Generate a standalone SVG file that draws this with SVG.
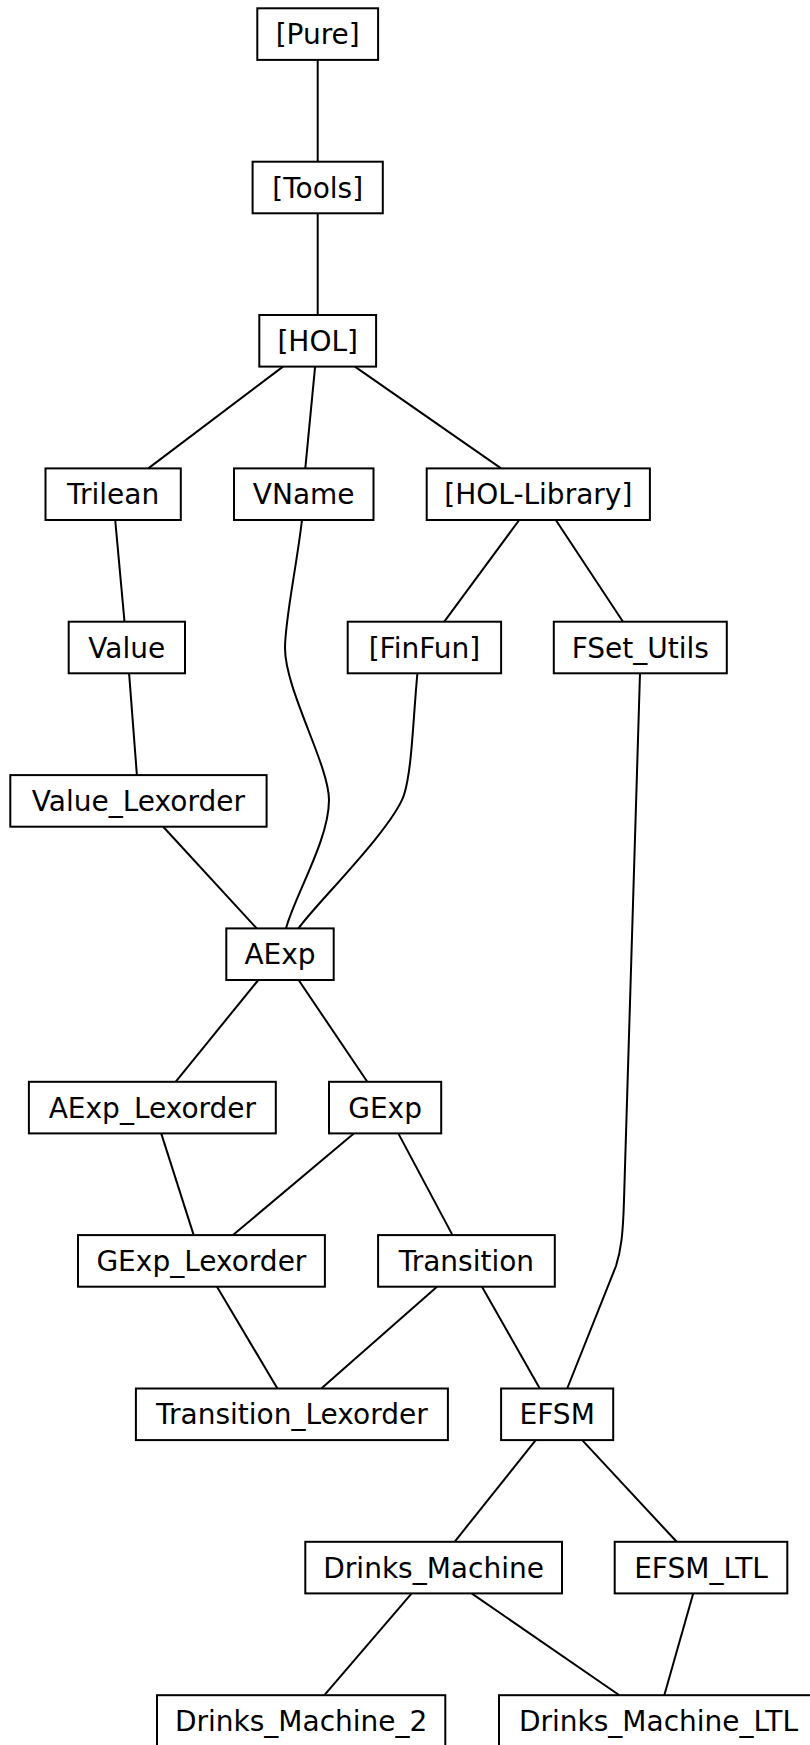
<svg xmlns="http://www.w3.org/2000/svg" width="810" height="1745" viewBox="0 0 810 1745">
<style>
.n rect{fill:#fff;stroke:#000;stroke-width:2}
.n text{font-family:"DejaVu Sans",sans-serif;font-size:28px;fill:#000;text-anchor:middle}
#edges path{fill:none;stroke:#000;stroke-width:2}
</style>
<rect x="0" y="0" width="810" height="1745" fill="#fff"/>
<g id="edges">
<path d="M317.7,60 L317.7,161.7"/>
<path d="M317.7,213.3 L317.7,315"/>
<path d="M283,366.6 L148.3,468.4"/>
<path d="M315.1,366.6 L305.3,468.4"/>
<path d="M354.9,366.6 L501.1,468.4"/>
<path d="M115.2,520 L124.5,621.7"/>
<path d="M129.1,673.3 L136.9,775.1"/>
<path d="M302,520 C296,570 285,620 285,648 C285,690 329,765 329,800 C329,840 295,895 286,928.4"/>
<path d="M519.2,520 L444.3,621.7"/>
<path d="M555.8,520 L623,621.7"/>
<path d="M417.4,673.3 C413,720 412,770 404,795 C392,830 310,910 298.6,928.4"/>
<path d="M163.2,826.7 L256.7,928.4"/>
<path d="M640,673.3 L624,1200 C623,1235 621,1250 616,1266 L567.2,1388.5"/>
<path d="M258.3,980 L175.6,1081.8"/>
<path d="M298.6,980 L367.3,1081.8"/>
<path d="M161.2,1133.4 L193.7,1235.1"/>
<path d="M353.8,1133.4 L233,1235.1"/>
<path d="M398.3,1133.4 L452.5,1235.1"/>
<path d="M217,1286.7 L277.4,1388.5"/>
<path d="M437,1286.7 L321.3,1388.5"/>
<path d="M482,1286.7 L539.8,1388.5"/>
<path d="M535.7,1440.1 L454.6,1541.8"/>
<path d="M582.2,1440.1 L676.7,1541.8"/>
<path d="M411.7,1593.4 L324.4,1695.2"/>
<path d="M471.6,1593.4 L619.4,1695.2"/>
<path d="M693.2,1593.4 L664.3,1695.2"/>
</g>
<g id="n_pure" class="n"><rect x="257.3" y="8.3" width="120.8" height="51.6"/><text x="317.7" y="44.1">[Pure]</text></g>
<g id="n_tools" class="n"><rect x="252.6" y="161.7" width="130.2" height="51.6"/><text x="317.7" y="197.5">[Tools]</text></g>
<g id="n_hol" class="n"><rect x="259.3" y="315" width="116.8" height="51.6"/><text x="317.7" y="350.8">[HOL]</text></g>
<g id="n_trilean" class="n"><rect x="45.5" y="468.4" width="135.3" height="51.6"/><text x="113.1" y="504.2">Trilean</text></g>
<g id="n_vname" class="n"><rect x="234" y="468.4" width="139.5" height="51.6"/><text x="303.7" y="504.2">VName</text></g>
<g id="n_hollib" class="n"><rect x="426.7" y="468.4" width="223.2" height="51.6"/><text x="538.3" y="504.2">[HOL-Library]</text></g>
<g id="n_value" class="n"><rect x="68.7" y="621.7" width="116.3" height="51.6"/><text x="126.8" y="657.5">Value</text></g>
<g id="n_finfun" class="n"><rect x="347.7" y="621.7" width="153.4" height="51.6"/><text x="424.4" y="657.5">[FinFun]</text></g>
<g id="n_fset" class="n"><rect x="553.8" y="621.7" width="173" height="51.6"/><text x="640.3" y="657.5">FSet_Utils</text></g>
<g id="n_valuelex" class="n"><rect x="10.3" y="775.1" width="256.3" height="51.6"/><text x="138.4" y="810.9">Value_Lexorder</text></g>
<g id="n_aexp" class="n"><rect x="226.3" y="928.4" width="107.4" height="51.6"/><text x="280" y="964.2">AExp</text></g>
<g id="n_aexplex" class="n"><rect x="28.9" y="1081.8" width="246.9" height="51.6"/><text x="152.4" y="1117.6">AExp_Lexorder</text></g>
<g id="n_gexp" class="n"><rect x="329" y="1081.8" width="112.2" height="51.6"/><text x="385.1" y="1117.6">GExp</text></g>
<g id="n_gexplex" class="n"><rect x="78" y="1235.1" width="246.9" height="51.6"/><text x="201.4" y="1270.9">GExp_Lexorder</text></g>
<g id="n_transition" class="n"><rect x="378.1" y="1235.1" width="176.7" height="51.6"/><text x="466.4" y="1270.9">Transition</text></g>
<g id="n_translex" class="n"><rect x="135.9" y="1388.5" width="312" height="51.6"/><text x="291.9" y="1424.3">Transition_Lexorder</text></g>
<g id="n_efsm" class="n"><rect x="501.1" y="1388.5" width="112.1" height="51.6"/><text x="557.2" y="1424.3">EFSM</text></g>
<g id="n_drinks" class="n"><rect x="305.3" y="1541.8" width="256.7" height="51.6"/><text x="433.6" y="1577.6">Drinks_Machine</text></g>
<g id="n_efsmltl" class="n"><rect x="614.7" y="1541.8" width="172.6" height="51.6"/><text x="701" y="1577.6">EFSM_LTL</text></g>
<g id="n_drinks2" class="n"><rect x="157" y="1695.2" width="288.3" height="51.6"/><text x="301.2" y="1731">Drinks_Machine_2</text></g>
<g id="n_drinksltl" class="n"><rect x="499" y="1695.2" width="319" height="51.6"/><text x="658.5" y="1731">Drinks_Machine_LTL</text></g>
</svg>
